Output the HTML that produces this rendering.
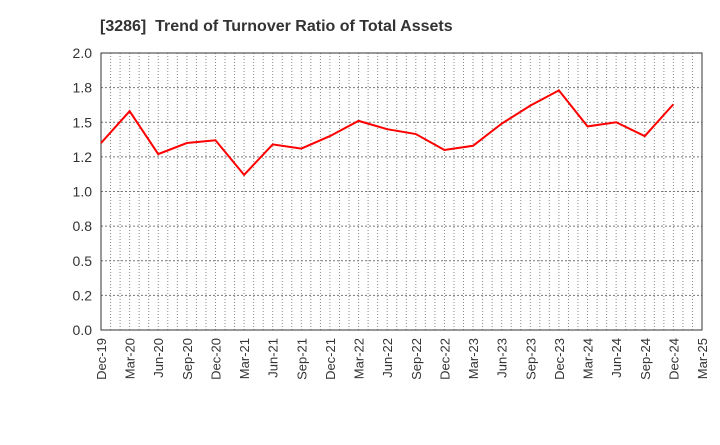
<!DOCTYPE html>
<html><head><meta charset="utf-8"><style>
body{margin:0;background:#fff;}
svg text{font-family:"Liberation Sans",sans-serif;}
</style></head><body>
<svg width="720" height="440" id="c"></svg>
<script>
const categories=["Dec-19","Mar-20","Jun-20","Sep-20","Dec-20","Mar-21","Jun-21","Sep-21","Dec-21","Mar-22","Jun-22","Sep-22","Dec-22","Mar-23","Jun-23","Sep-23","Dec-23","Mar-24","Jun-24","Sep-24","Dec-24","Mar-25"];
const values=[1.35,1.58,1.27,1.35,1.37,1.12,1.34,1.31,1.40,1.51,1.45,1.415,1.30,1.33,1.49,1.62,1.73,1.47,1.50,1.40,1.63];
const yTicks=[0,0.25,0.5,0.75,1.0,1.25,1.5,1.75,2.0];
const yTickLabels=["0.0","0.2","0.5","0.8","1.0","1.2","1.5","1.8","2.0"];
const NS="http://www.w3.org/2000/svg";
const svg=document.getElementById('c');
const L=101,R=702,T=53,B=330;
const months=(categories.length-1)*3;
const x=i=>L+(R-L)*i/months;
const y=v=>B-(B-T)*v/2;
function mk(t,a){const e=document.createElementNS(NS,t);for(const k in a)e.setAttribute(k,a[k]);svg.appendChild(e);return e;}
const title=mk('text',{x:100,y:31,'font-size':16,'font-weight':'bold',fill:'#333'});
title.textContent="[3286]\u00a0 Trend of Turnover Ratio of Total Assets";


for(let m=0;m<=months;m++){
 const g=mk('line',{x1:x(m),x2:x(m),y1:T,y2:B,stroke:'#888','stroke-dasharray':'1,2','stroke-width':1});
 
 
}
yTicks.forEach((v,i)=>{
 const g=mk('line',{x1:L,x2:R,y1:y(v),y2:y(v),stroke:'#777','stroke-dasharray':'2,2','stroke-width':1});
 
 
 const t=mk('text',{x:L-9,y:y(v)+5,'text-anchor':'end','font-size':14,fill:'#333'});
 t.textContent=yTickLabels[i];
 
 
});
const frame=mk('rect',{x:L,y:T,width:R-L,height:B-T,fill:'none',stroke:'#333','stroke-width':1});


categories.forEach((c,i)=>{
 const px=x(i*3)+5;
 const t=mk('text',{x:px,y:B+8,'text-anchor':'end','font-size':13,fill:'#333',transform:`rotate(-90 ${px} ${B+8})`});
 t.textContent=c;
 
 
});
const pts=values.map((v,i)=>x(i*3)+','+y(v)).join(' ');
const line=mk('polyline',{points:pts,fill:'none',stroke:'#f00','stroke-width':2});


</script>
</body></html>
